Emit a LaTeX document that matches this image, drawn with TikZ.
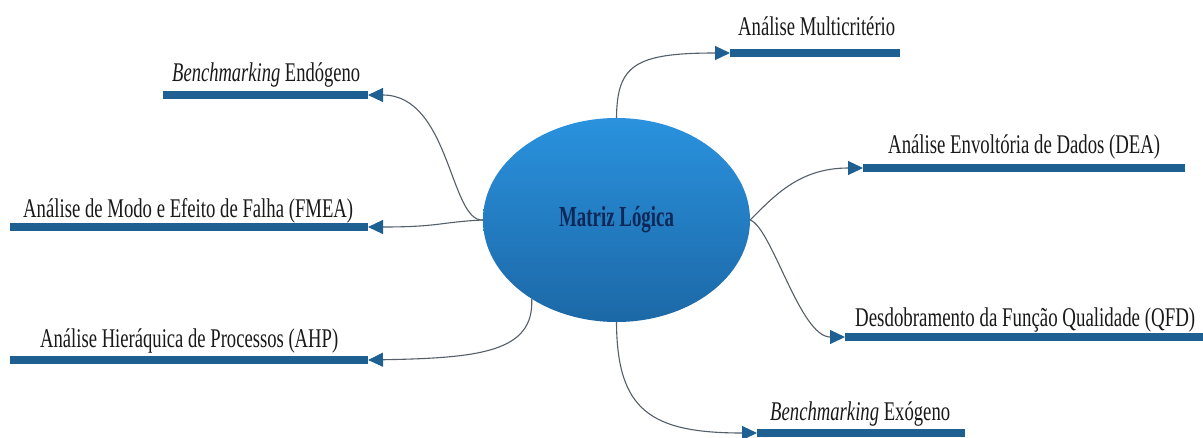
\documentclass[tikz,border=0pt]{standalone}
\usepackage{fontspec}
\setmainfont{Liberation Serif}
\usetikzlibrary{shapes.geometric,arrows.meta}
\definecolor{barblue}{RGB}{30,96,146}
\definecolor{linkgray}{RGB}{85,95,105}
\definecolor{hubtop}{RGB}{42,146,222}
\definecolor{hubbottom}{RGB}{28,104,166}
\definecolor{hubtext}{RGB}{16,40,88}
\definecolor{labeltext}{RGB}{25,25,25}
% squeeze a label horizontally to a given width, keeping its height
\newcommand\fitlabel[2]{\resizebox{#1}{\height}{#2}}

\begin{document}
\begin{tikzpicture}[x=1pt,y=-1pt,
  hub/.style={ellipse, minimum width=267pt, minimum height=204pt, inner sep=0pt,
    top color=hubtop, bottom color=hubbottom, draw=none, text=hubtext,
    font=\fontsize{29}{32}\selectfont\bfseries},
  bar/.style={draw=barblue, line width=8pt},
  link/.style={draw=linkgray, line width=1.1pt,
    -{Triangle[length=15pt,width=14pt,color=barblue]}},
  lbl/.style={anchor=base west, inner sep=0pt, text=labeltext,
    font=\fontsize{27}{30}\selectfont}
]
\fill[white] (0,0) rectangle (1203,437);
\useasboundingbox (0,0) rectangle (1203,437);

% central topic
\node[hub] (mx) at (616.5,220) {\fitlabel{115pt}{Matriz Lógica}};

% ends of the branch bars (near end / far end)
\coordinate (endoA) at (368,95);   \coordinate (endoB) at (163,95);
\coordinate (multA) at (730,53);   \coordinate (multB) at (900,53);
\coordinate (deaA)  at (863,168);  \coordinate (deaB)  at (1185,168);
\coordinate (qfdA)  at (845,337);  \coordinate (qfdB)  at (1203,337);
\coordinate (exoA)  at (757,433);  \coordinate (exoB)  at (965,433);
\coordinate (fmeaA) at (368,227);  \coordinate (fmeaB) at (10,227);
\coordinate (ahpA)  at (368,360);  \coordinate (ahpB)  at (10,360);

% branch bars
\foreach \b in {endo,mult,dea,qfd,exo,fmea,ahp}
  \draw[bar] (\b A) -- (\b B);

% branch labels
\node[lbl] (endoT) at (172,81)  {\fitlabel{188pt}{\textit{Benchmarking} Endógeno}};
\node[lbl] (multT) at (738,35)  {\fitlabel{157pt}{Análise Multicritério}};
\node[lbl] (deaT)  at (888,153) {\fitlabel{272pt}{Análise Envoltória de Dados (DEA)}};
\node[lbl] (qfdT)  at (855,326) {\fitlabel{340pt}{Desdobramento da Função Qualidade (QFD)}};
\node[lbl] (exoT)  at (770,420) {\fitlabel{180pt}{\textit{Benchmarking} Exógeno}};
\node[lbl] (fmeaT) at (23,217)  {\fitlabel{330pt}{Análise de Modo e Efeito de Falha (FMEA)}};
\node[lbl] (ahpT)  at (40,347)  {\fitlabel{298pt}{Análise Hieráquica de Processos (AHP)}};

% connectors from the central topic
\draw[link] (mx.north) .. controls (617,65) and (635,53) .. (multA);
\draw[link] (mx.west)  .. controls (450,222) and (450,95) .. (endoA);
\draw[link] (mx.west)  .. controls (440,222) and (440,227) .. (fmeaA);
\draw[link] (mx.223)   .. controls (534,352) and (480,358) .. (ahpA);
\draw[link] (mx.south) .. controls (617,410) and (650,433) .. (exoA);
\draw[link] (mx.east)  .. controls (775,195) and (800,168) .. (deaA);
\draw[link] (mx.east)  .. controls (772,228) and (800,337) .. (qfdA);
\end{tikzpicture}
\end{document}
